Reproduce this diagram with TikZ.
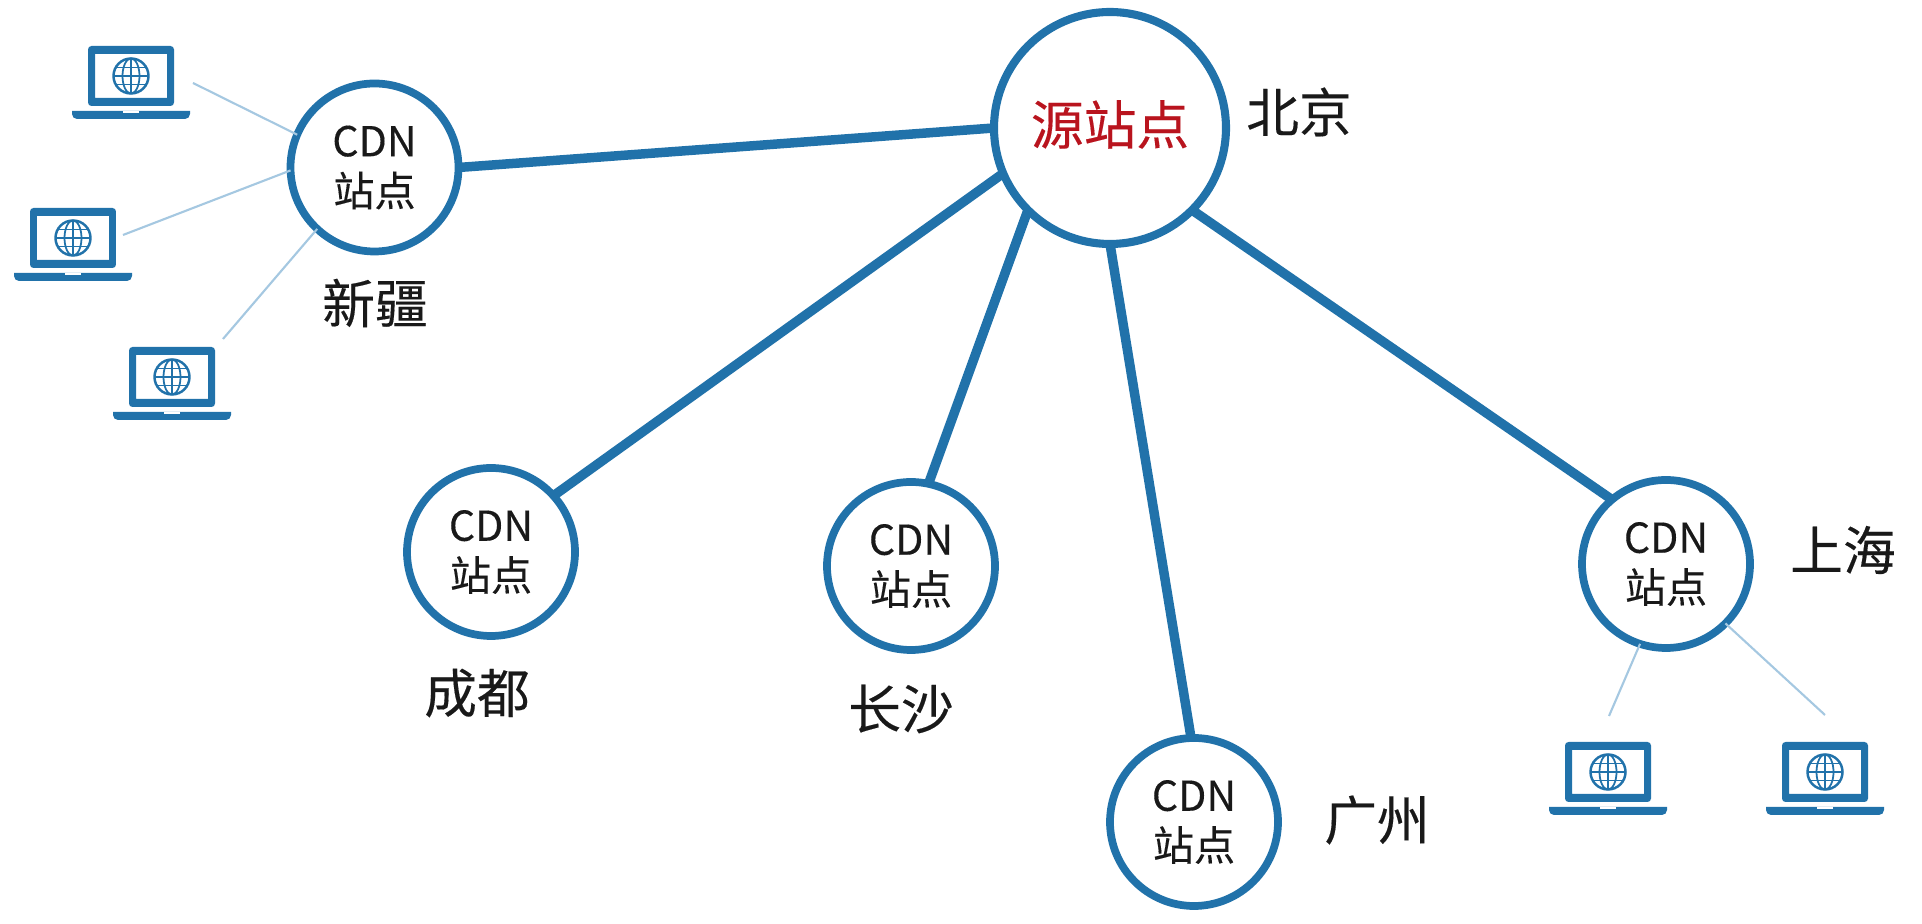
\documentclass[tikz,border=0pt]{standalone}
\usepackage{fontspec}
\usepackage{xcolor}
\setmainfont[FakeBold=0.25]{Noto Sans CJK SC}
\definecolor{ringblue}{RGB}{33,114,170}
\definecolor{thinblue}{RGB}{165,200,225}
\definecolor{srcred}{RGB}{185,20,30}
\definecolor{labelblack}{RGB}{25,25,25}
\tikzset{
  sitenode/.style={circle, draw=ringblue, fill=white, line width=2.2pt, minimum size=1.68cm, inner sep=0pt, outer sep=0pt, align=center, text=labelblack, font=\fontsize{11.7}{14.2}\selectfont},
  srcnode/.style={circle, draw=ringblue, fill=white, line width=2.3pt, minimum size=2.32cm, inner sep=0pt, outer sep=0pt, text=srcred, text depth=3.2pt, font=\fontsize{15}{17}\selectfont},
  citylabel/.style={text=labelblack, inner sep=0pt, font=\fontsize{15}{17}\selectfont},
  backbone/.style={ringblue, line width=2.7pt},
  accessline/.style={thinblue, line width=0.6pt}
}

\begin{document}
\begin{tikzpicture}

% 1. CANVAS
\useasboundingbox (0,0) rectangle (19.22,9.24);
\fill[white] (0,0) rectangle (19.22,9.24);

% 2. BACKBONE LINKS AND SITES
\node[srcnode] (src) at (11.10,7.96) {源站点};
\node[sitenode] (xinjiang) at (3.745,7.565) {CDN\\站点};
\node[sitenode] (chengdu) at (4.91,3.72) {CDN\\站点};
\node[sitenode] (changsha) at (9.11,3.58) {CDN\\站点};
\node[sitenode] (guangzhou) at (11.94,1.02) {CDN\\站点};
\node[sitenode] (shanghai) at (16.66,3.60) {CDN\\站点};

% City names
\node[citylabel] (lbeijing) at (12.99,8.12) {北京};
\node[citylabel] (lxinjiang) at (3.75,6.21) {新疆};
\node[citylabel] (lchengdu) at (4.77,2.31) {成都};
\node[citylabel] (lchangsha) at (9.01,2.15) {长沙};
\node[citylabel] (lguangzhou) at (13.77,1.04) {广州};
\node[citylabel] (lshanghai) at (18.43,3.74) {上海};

\draw[backbone] (xinjiang.east) -- (src.west);
\draw[backbone] (src.203) -- (chengdu.42);
\draw[backbone] (src.225) -- (changsha.78);
\draw[backbone] (src.south) -- (guangzhou.92);
\draw[backbone] (src.-45) -- (shanghai.130);

% 3. LAPTOPS
\coordinate (lp1) at (1.31,8.48);
\coordinate (lp2) at (0.73,6.86);
\coordinate (lp3) at (1.72,5.47);
\coordinate (lp4) at (16.08,1.52);
\coordinate (lp5) at (18.25,1.52);

\foreach \lp in {lp1, lp2, lp3, lp4, lp5} {
  \begin{scope}[shift={(\lp)}]
    % Screen
    \fill[ringblue, even odd rule, rounded corners=1pt] (-0.43,-0.30) rectangle (0.43,0.30) (-0.36,-0.22) [sharp corners] rectangle (0.36,0.22);
    % Base
    \fill[ringblue] (-0.59,-0.35) -- (0.59,-0.35) -- (0.59,-0.38) to[out=-90, in=0] (0.54,-0.43) -- (-0.54,-0.43) to[out=180, in=-90] (-0.59,-0.38) -- cycle;
    \fill[white] (-0.08,-0.35) rectangle (0.08,-0.375);
    % Globe
    \draw[ringblue, line width=0.7pt] (0,0) circle (0.175);
    \draw[ringblue, line width=0.5pt] (0,0) ellipse (0.085 and 0.175);
    \draw[ringblue, line width=0.5pt] (0,-0.175) -- (0,0.175);
    \draw[ringblue, line width=0.5pt] (-0.175,0) -- (0.175,0);
    \draw[ringblue, line width=0.5pt] (-0.15,0.085) -- (0.15,0.085);
    \draw[ringblue, line width=0.5pt] (-0.15,-0.085) -- (0.15,-0.085);
  \end{scope}
}

% 4. ACCESS LINKS
\coordinate (end1) at (1.93,8.41);
\coordinate (end2) at (1.23,6.89);
\coordinate (end3) at (2.23,5.85);
\coordinate (end4) at (16.09,2.08);
\coordinate (end5) at (18.25,2.09);

\draw[accessline] (end1) -- (xinjiang.157);
\draw[accessline] (end2) -- (xinjiang.182);
\draw[accessline] (end3) -- (xinjiang.227);
\draw[accessline] (end4) -- (shanghai.252);
\draw[accessline] (end5) -- (shanghai.-45);

\end{tikzpicture}
\end{document}
